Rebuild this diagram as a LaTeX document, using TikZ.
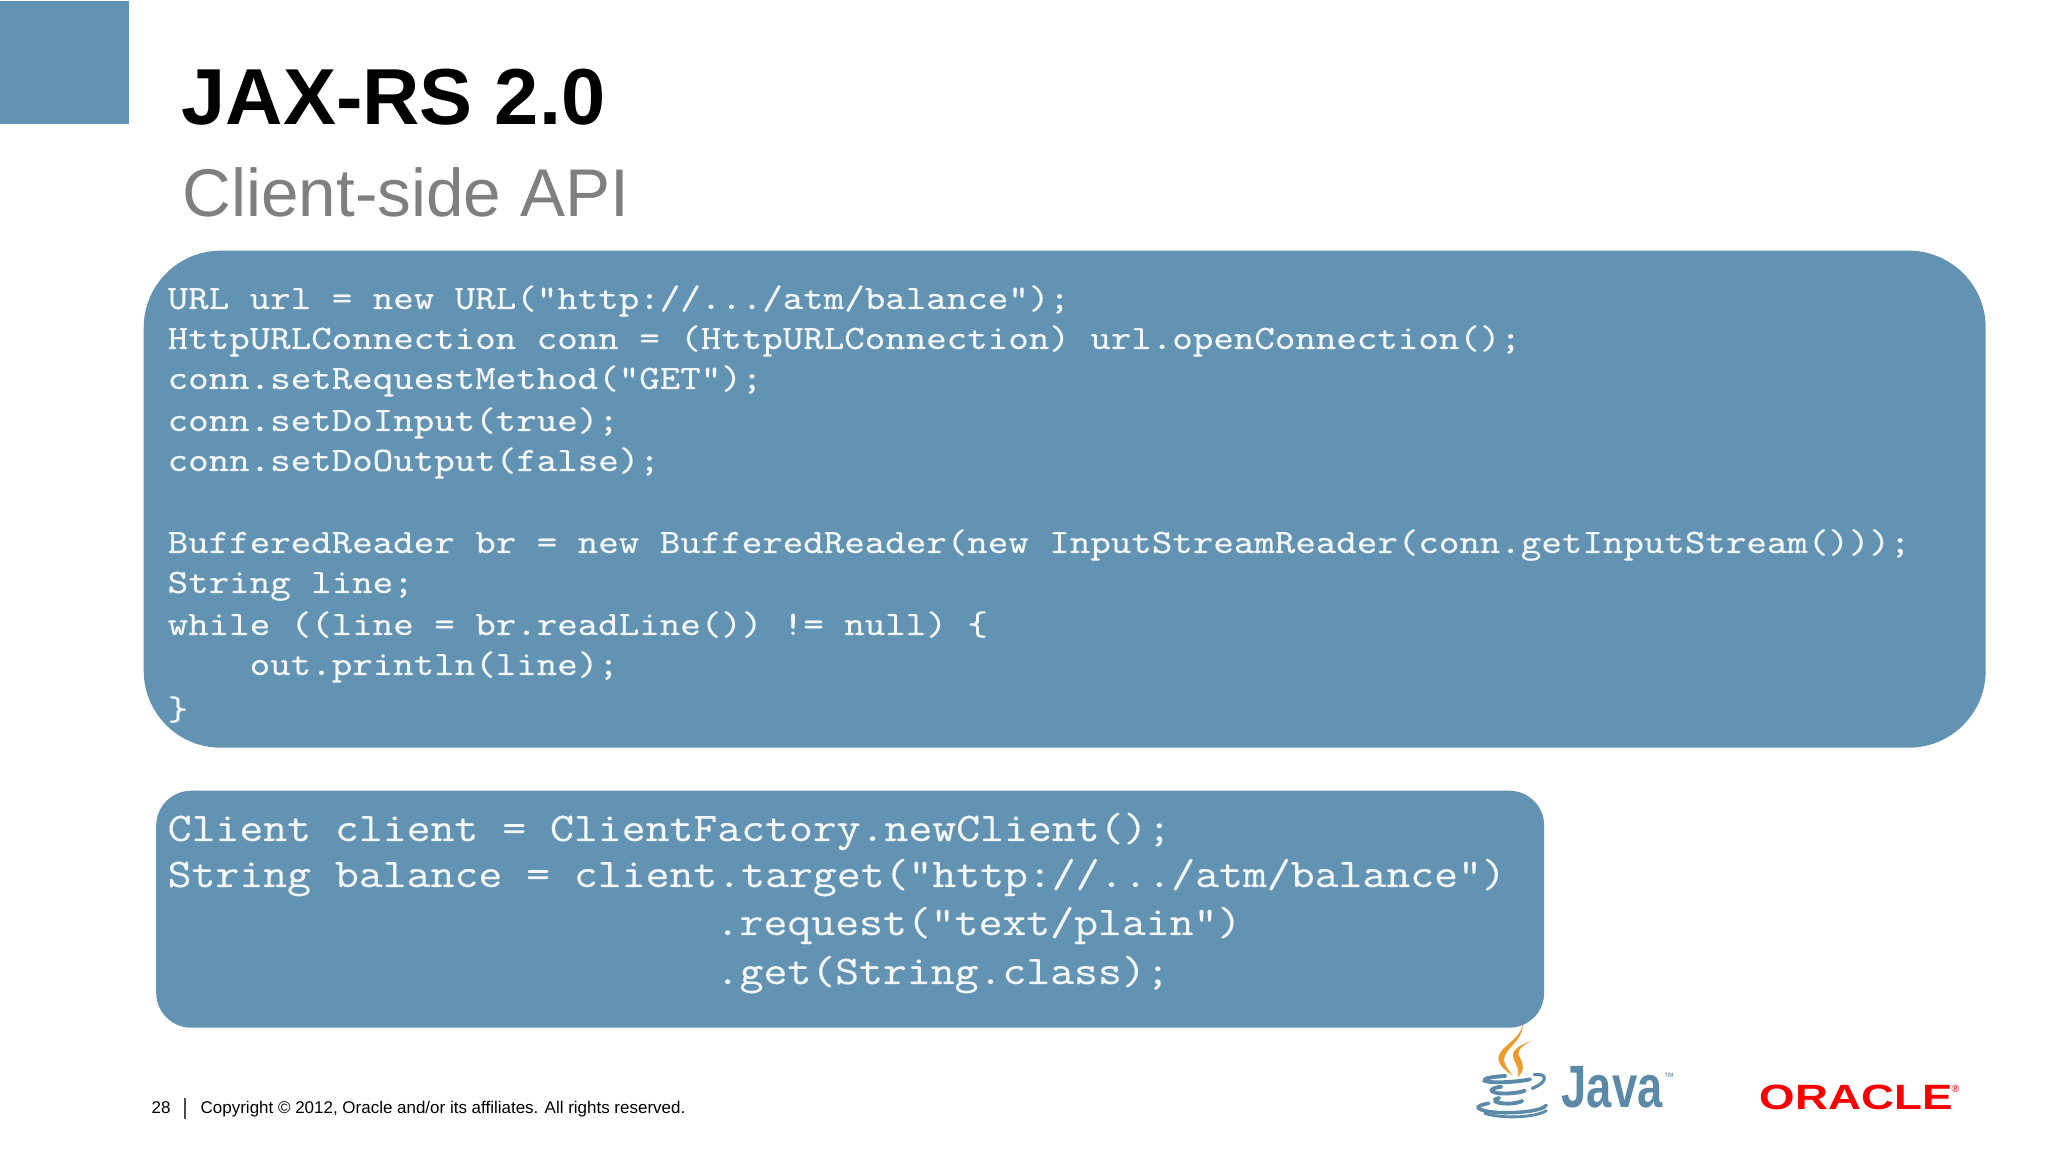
\documentclass[tikz,border=0pt]{standalone}
\usepackage{fontspec}
\setmainfont{Liberation Sans}
\setmonofont{Latin Modern Mono}[FakeStretch=1.142,FakeBold=0.25]
\definecolor{slideblue}{HTML}{6393B2}
\definecolor{codewhite}{HTML}{F4F7F9}
\definecolor{subgray}{HTML}{7F7F7F}
\definecolor{steamorange}{HTML}{EF9A2D}
\definecolor{logoblue}{HTML}{5B89A8}
\definecolor{oraclered}{HTML}{F80000}
\tikzset{
	title/.style={anchor=base west,inner sep=0pt,font=\bfseries\fontsize{22.6}{26}\selectfont},
	subtitle/.style={anchor=base west,inner sep=0pt,text=subgray,font=\fontsize{19.2}{23}\selectfont},
	box/.style={anchor=north west,fill=slideblue,inner sep=0pt},
	code/.style={anchor=base west,inner sep=0pt,text=codewhite,font=\ttfamily\fontsize{9.73}{12}\selectfont},
	bigcode/.style={anchor=base west,inner sep=0pt,text=codewhite,font=\ttfamily\fontsize{11.56}{14}\selectfont},
	footer/.style={anchor=base west,inner sep=0pt,font=\fontsize{4.83}{6}\selectfont},
}
\begin{document}
\begin{tikzpicture}[x=0.1mm,y=-0.1mm]
		\useasboundingbox (0,0) rectangle (2048,1152);
		\node[box,minimum width=12.9mm,minimum height=12.3mm] at (-1,0)(corner){};
		\node[title] at (181,125)(head){JAX-RS 2.0};
		\node[subtitle] at (182,217)(sub){Client-side API};

		\node[box,minimum width=184.2mm,minimum height=49.7mm,rounded corners=7.7mm] at (143,250)(top){};
		\node[code] at (167,309)(t1){URL url = new URL("http://.../atm/balance");};
		\node[code] at (167,349)(t2){HttpURLConnection conn = (HttpURLConnection) url.openConnection();};
		\node[code] at (167,389)(t3){conn.setRequestMethod("GET");};
		\node[code] at (167,431)(t4){conn.setDoInput(true);};
		\node[code] at (167,471)(t5){conn.setDoOutput(false);};
		\node[code] at (167,553)(t6){BufferedReader br = new BufferedReader(new InputStreamReader(conn.getInputStream()));};
		\node[code] at (167,593)(t7){String line;};
		\node[code] at (167,635)(t8){while ((line = br.readLine()) != null) \{};
		\node[code] at (249,675)(t9){out.println(line);};
		\node[code] at (167,720)(t10){\}};

		% java cup, coordinates taken from the zoomed crop
		\begin{scope}[shift={(1400,1000)},xscale=0.413,yscale=0.3333]
			\fill[steamorange] (296,55) .. controls (305,115) and (240,135) .. (238,175) .. controls (238,195) and (258,215) .. (272,226) .. controls (262,205) and (245,190) .. (255,165) .. controls (265,135) and (305,115) .. (296,55) -- cycle;
			\fill[steamorange] (320,123) .. controls (285,135) and (268,155) .. (275,175) .. controls (280,195) and (292,210) .. (284,232) .. controls (302,215) and (300,190) .. (290,172) .. controls (280,155) and (295,135) .. (320,123) -- cycle;
			\draw[logoblue,line width=1.1pt,line cap=round] (255,228) .. controls (225,230) and (200,235) .. (205,242) .. controls (215,250) and (275,248) .. (315,238);
			\draw[logoblue,line width=0.9pt,line cap=round] (325,224) .. controls (355,218) and (362,245) .. (320,265);
			\draw[logoblue,line width=1.1pt,line cap=round] (245,260) .. controls (215,265) and (215,276) .. (240,280) .. controls (265,282) and (290,278) .. (302,272);
			\draw[logoblue,line width=1.1pt,line cap=round] (240,294) .. controls (220,300) and (230,310) .. (260,311) .. controls (275,311) and (290,307) .. (296,303);
			\draw[logoblue,line width=1pt,line cap=round] (215,310) .. controls (175,318) and (180,332) .. (240,338) .. controls (290,340) and (345,332) .. (354,316);
			\draw[logoblue,line width=0.8pt,line cap=round] (205,340) .. controls (250,358) and (330,352) .. (354,332);
		\end{scope}

		\node[box,minimum width=138.8mm,minimum height=23.7mm,rounded corners=3.5mm] at (155.5,790)(low){};
		\node[bigcode] at (167,841)(l1){Client client = ClientFactory.newClient();};
		\node[bigcode] at (167,887)(l2){String balance = client.target("http://.../atm/balance")};
		\node[bigcode] at (715,935)(l3){.request("text/plain")};
		\node[bigcode] at (715,984)(l4){.get(String.class);};

		\node[footer] at (151,1113)(page){28};
		\draw[black!70,line width=0.3pt] (185,1098)--(185,1119);
		\node[footer] at (200,1113)(copy){Copyright © 2012, Oracle and/or its affiliates. All rights reserved.};

		\node[anchor=base west,inner sep=0pt,text=logoblue,xscale=0.76,font=\bfseries\fontsize{17}{20}\selectfont] at (1561,1107)(java){Java};
		\node[anchor=base west,inner sep=0pt,text=logoblue,font=\fontsize{3}{4}\selectfont] at (1663,1081)(tm){™};
		\node[anchor=base west,inner sep=0pt,text=oraclered,xscale=1.3,font=\bfseries\fontsize{10}{12}\selectfont] at (1759,1109)(oracle){ORACLE};
		\node[anchor=base west,inner sep=0pt,text=oraclered,font=\fontsize{3}{4}\selectfont] at (1951,1092)(reg){®};
	\end{tikzpicture}
\end{document}
